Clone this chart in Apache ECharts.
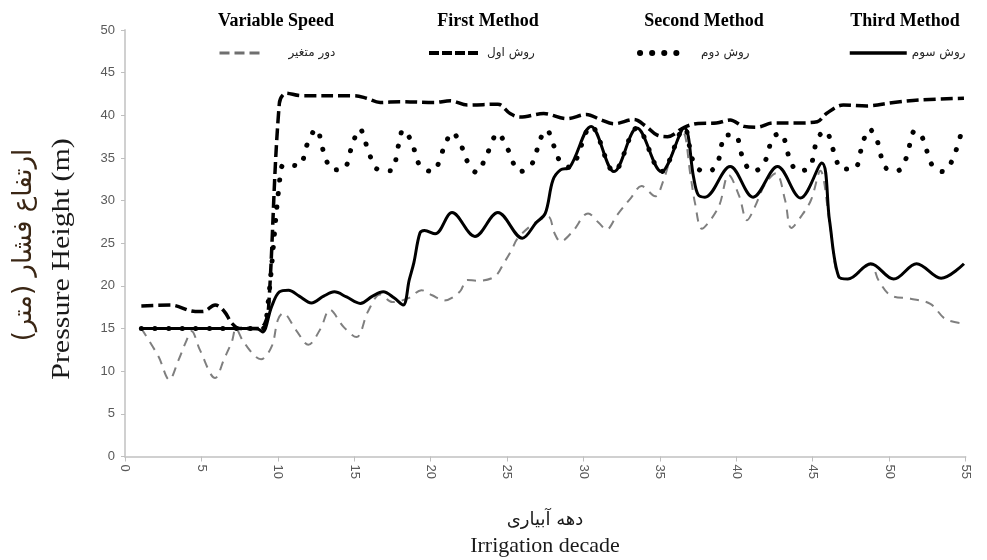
<!DOCTYPE html>
<html>
<head>
<meta charset="utf-8">
<script src="https://cdn.jsdelivr.net/npm/echarts@6/dist/echarts.min.js"></script>
<style>html,body{margin:0;padding:0;background:#fff;}#c{width:987px;height:560px;}</style>
</head>
<body>
<div id="c"></div>
<script>
// ---- data ----
const seriesNames = ['دور متغیر', 'روش اول', 'روش دوم', 'روش سوم'];
const methodTitles = ['Variable Speed', 'First Method', 'Second Method', 'Third Method'];
const yTitleFa = 'ارتفاع فشار (متر)';
const yTitleEn = 'Pressure Height (m)';
const xTitleFa = 'دهه آبیاری';
const xTitleEn = 'Irrigation decade';

// Variable speed
const vsX = [1.07,2.2,2.9,3.5,4.0,4.35,4.9,5.9,6.5,7.0,7.25,7.8,8.9,9.6,10.0,10.35,11.2,12.0,12.8,13.4,14.3,15.15,15.9,16.7,17.5,18.6,19.4,20.1,20.9,21.9,22.4,23.1,24.2,24.8,25.3,25.7,26.9,27.7,28.1,28.5,29.3,30.3,31.0,31.5,32.2,33.1,33.8,34.7,35.2,35.8,36.5,37.0,37.3,37.75,38.3,38.9,39.5,40.2,40.7,41.2,41.9,42.6,43.2,43.6,44.3,44.9,45.5,46.1,46.7,47.3,48.8,49.3,50.1,51.4,52.7,53.7,54.9];
const vsY = [15.0,11.7,9.0,11.3,13.5,14.7,12.5,9.2,11.5,13.5,15.0,13.3,11.4,12.9,16.0,16.8,14.8,13.1,15.0,17.2,15.2,14.0,17.0,19.0,18.1,18.6,19.5,18.9,18.3,19.3,20.7,20.6,21.1,22.7,24.2,25.6,27.5,28.1,26.2,25.2,26.4,28.5,27.4,26.6,28.3,30.3,31.7,30.5,32.2,35.5,38.0,33.0,29.7,26.7,27.7,29.5,33.0,30.5,27.7,29.2,32.0,33.2,30.0,26.8,28.3,30.1,33.5,27.5,21.0,20.8,22.5,20.7,18.9,18.5,17.9,16.1,15.6];

// First method
const m1X = [1.07,3.0,4.6,5.1,5.9,6.5,7.0,7.5,8.7,9.15,9.4,10.1,10.55,11.5,15.0,15.8,16.7,18.0,20.2,21.3,22.4,24.4,25.2,25.85,27.4,28.9,30.2,31.1,32.0,33.3,34.1,34.8,35.5,36.6,37.5,38.7,39.6,40.5,41.35,42.4,44.0,45.3,45.9,47.0,48.55,50.3,52.0,54.9];
const m1Y = [17.65,17.75,17.0,17.0,17.75,17.0,15.6,15.0,15.0,15.6,17.6,41.4,42.6,42.3,42.3,42.0,41.5,41.6,41.5,41.7,41.2,41.3,40.2,39.8,40.2,39.6,40.1,39.5,39.0,39.5,38.7,37.7,37.5,38.6,39.05,39.1,39.45,38.7,38.6,39.1,39.1,39.25,40.2,41.2,41.1,41.5,41.8,42.0];

// Second method
const m2X = [1.07,3,5,7,9.0,9.3,10.1,10.4,11.4,11.9,12.5,13.1,13.6,14.3,14.9,15.35,16.0,16.5,17.4,17.9,18.2,18.75,19.3,20.1,20.9,21.4,21.9,22.4,23.0,23.7,24.4,25.0,25.85,26.6,27.2,27.6,28.0,28.5,29.1,30.5,32.0,33.5,35.1,36.6,37.1,37.5,38.2,38.8,39.3,39.9,40.5,41.1,41.8,42.4,42.9,43.5,44.0,44.8,45.3,45.8,46.5,46.85,47.7,48.3,48.7,49.2,49.75,50.55,51.1,51.7,52.2,52.8,53.5,54.1,54.7];
const m2Y = [15,15,15,15,15,17,32,34.2,34.1,36.5,38.4,35.1,33.6,33.7,36.7,38.4,35.4,33.7,33.5,36.5,38.3,36.9,34.1,33.4,36.3,38.0,36.9,34.6,33.3,35.5,37.9,36.2,33.4,34.2,37.3,38.3,36.7,34.5,33.9,38.7,33.4,38.5,33.4,38.5,35.0,33.7,33.4,34.6,37.7,37.7,34.6,33.4,34.3,37.4,37.9,34.9,33.5,33.9,37.2,38.2,35.1,33.7,33.7,36.9,38.4,37.1,33.9,33.5,34.9,38.2,37.3,34.2,33.4,34.6,37.8];

// Third method
const m3X = [1.07,2,3,4,5,6,7,8,8.7,9.0,9.6,10.1,10.7,11.4,12.2,13.0,13.7,14.5,15.4,16.2,16.9,17.6,18.2,18.6,18.9,19.3,19.6,20.3,21.4,22.9,24.4,26.0,26.9,27.5,28.0,28.5,29.1,30.5,32.0,33.5,35.1,36.6,37.2,37.5,37.95,39.6,41.1,42.7,44.2,45.6,46.1,46.7,47.3,48.8,50.3,51.8,53.4,54.9];
const m3Y = [15.0,15,15,15,15,15,15,15,14.95,14.6,17.6,19.3,19.5,18.8,18.0,18.8,19.3,18.7,17.95,18.8,19.3,18.6,17.75,20.7,22.7,26.2,26.5,26.1,28.6,25.8,28.6,25.6,27.4,28.5,32.4,33.6,33.9,38.7,33.4,38.5,33.4,38.5,32.8,30.7,30.4,34.0,30.4,34.0,30.3,34.4,27.7,21.1,20.8,22.6,20.8,22.6,20.9,22.6];

const xMin = 0, xMax = 55, xStep = 5;
const yMin = 0, yMax = 50, yStep = 5;

function pairs(xs, ys) { return xs.map((x, i) => [x, ys[i]]); }

const chart = echarts.init(document.getElementById('c'), null, {renderer: 'canvas'});

const serif = "'Liberation Serif', 'Times New Roman', serif";
const faFont = "'DejaVu Sans', sans-serif";

const lineStyles = [
  {color: '#7f7f7f', width: 2, type: [9, 7]},
  {color: '#000000', width: 3.5, type: [12, 5]},
  {color: '#000000', width: 5, type: [0.1, 13.5], cap: 'round'},
  {color: '#000000', width: 3, type: 'solid'}
];
const legendLineStyles = [
  {color: '#6f6f6f', width: 3, type: [10, 5], opacity: 1},
  {color: '#000000', width: 4, type: [10, 3], opacity: 1},
  {color: '#000000', width: 6, type: [0.1, 12], cap: 'round', opacity: 1},
  {color: '#000000', width: 3.5, type: 'solid', opacity: 1}
];
const datas = [pairs(vsX, vsY), pairs(m1X, m1Y), pairs(m2X, m2Y), pairs(m3X, m3Y)];

const series = seriesNames.map((n, i) => ({
  name: n,
  type: 'line',
  data: datas[i],
  smooth: 0.35,
  showSymbol: false,
  symbol: 'none',
  lineStyle: lineStyles[i],
  itemStyle: {color: lineStyles[i].color},
  z: 2 + i,
  animation: false
}));

const legendPos = [
  {left: 213, w: 40, pad: 24},
  {left: 422, w: 51, pad: 2},
  {left: 632, w: 46, pad: 10},
  {left: 843, w: 57, pad: 0}
];
const legends = seriesNames.map((n, i) => ({
  data: [n],
  left: legendPos[i].left,
  top: 42,
  itemWidth: legendPos[i].w,
  itemHeight: 14,
  selectedMode: false,
  itemStyle: {opacity: 0, borderWidth: 0},
  lineStyle: legendLineStyles[i],
  textStyle: {fontFamily: faFont, fontSize: 12, color: '#262626', padding: [0, 0, 0, legendPos[i].pad]}
}));

const titleCenters = [276, 488, 704, 905];
const graphics = methodTitles.map((t, i) => ({
  type: 'text', x: titleCenters[i], y: 21,
  style: {text: t, font: "bold 18px " + serif, fill: '#000', align: 'center', verticalAlign: 'middle'}
}));
graphics.push(
  {type: 'text', x: 24, y: 245, rotation: Math.PI / 2,
   style: {text: yTitleFa, font: "26px " + faFont, fill: '#3a2614', align: 'center', verticalAlign: 'middle'}},
  {type: 'text', x: 62, y: 259, rotation: Math.PI / 2, scaleX: 1.2,
   style: {text: yTitleEn, font: "25px " + serif, fill: '#1a1a1a', align: 'center', verticalAlign: 'middle'}},
  {type: 'text', x: 545, y: 520,
   style: {text: xTitleFa, font: "18px " + faFont, fill: '#1a1a1a', align: 'center', verticalAlign: 'middle'}},
  {type: 'text', x: 545, y: 546,
   style: {text: xTitleEn, font: "22px " + serif, fill: '#1a1a1a', align: 'center', verticalAlign: 'middle'}}
);

chart.setOption({
  animation: false,
  backgroundColor: '#ffffff',
  grid: {left: 125, right: 21.5, top: 30, bottom: 103.5, containLabel: false},
  legend: legends,
  xAxis: {
    type: 'value', min: xMin, max: xMax, interval: xStep,
    axisLine: {show: true, lineStyle: {color: '#d0d0d0', width: 2}},
    axisTick: {show: true, length: 5, lineStyle: {color: '#bfbfbf'}},
    splitLine: {show: false},
    axisLabel: {rotate: -90, margin: 8, fontFamily: "'Liberation Sans', sans-serif", fontSize: 13, color: '#595959'}
  },
  yAxis: {
    type: 'value', min: yMin, max: yMax, interval: yStep,
    axisLine: {show: true, lineStyle: {color: '#d0d0d0', width: 2}},
    axisTick: {show: true, length: 4, lineStyle: {color: '#bfbfbf'}},
    splitLine: {show: false},
    axisLabel: {margin: 10, fontFamily: "'Liberation Sans', sans-serif", fontSize: 13, color: '#595959'}
  },
  graphic: graphics,
  series: series
});
</script>
</body>
</html>
